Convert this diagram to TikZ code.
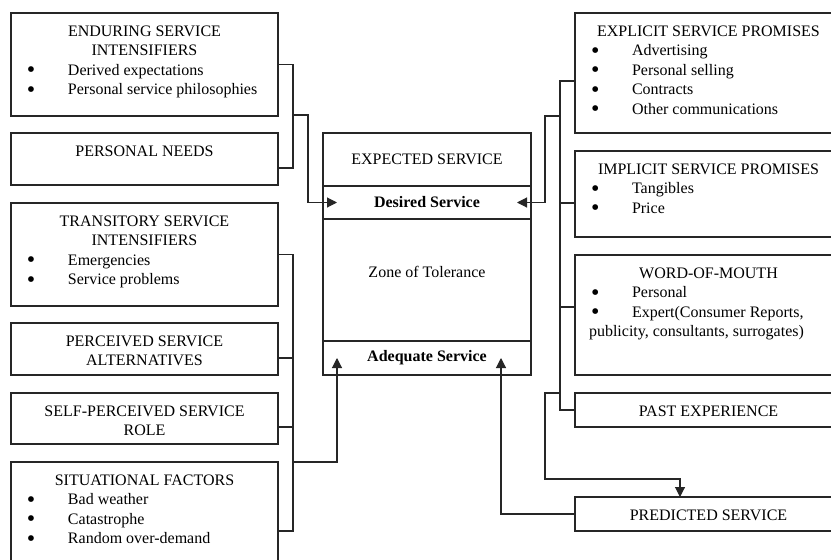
\documentclass[tikz,border=0pt]{standalone}
\usepackage{fontspec}
\setmainfont{Liberation Serif}
\usetikzlibrary{arrows.meta,positioning}

% box contents: fixed height, text from the top
\newcommand{\cardtext}[2]{\parbox[c][#1pt][t]{267pt}{\fontsize{16}{19.6}\selectfont\rule{0pt}{23pt}#2}}
\newcommand{\hd}[1]{{\centering#1\par}}
\newcommand{\dotmark}{\smash{\raisebox{-2.5pt}{\scalebox{1.5}{\textbullet}}}}
\newcommand{\bul}[1]{\hspace*{16pt}\makebox[41pt][l]{\dotmark}#1\par}

\tikzset{%
    >={Triangle[width=10pt,length=10pt]},
    % Specifications for style of nodes:
    base/.style = {
        rectangle, draw=black!85, line width=1.1pt,
        inner sep=0pt, outer sep=0pt, fill=white
    },
    card/.style = {base},
    mid/.style = {
        base, minimum width=208pt,
        font=\fontsize{16}{19.6}\selectfont, align=center
    },
    link/.style = {draw=black!85, line width=1.1pt}
}

\begin{document}
\begin{tikzpicture}[x=1pt, y=-1pt, node distance=17pt]
\path[use as bounding box, clip] (0,0) rectangle (831,560);
% left column
\node (endur) [card, anchor=north west] at (11,13) {\cardtext{103}{\hd{ENDURING SERVICE}\hd{INTENSIFIERS}\bul{Derived expectations}\bul{Personal service philosophies}}};
\node (needs) [card, below=17pt of endur] {\cardtext{52}{\hd{PERSONAL NEEDS}}};
\node (trans) [card, below=18pt of needs] {\cardtext{103}{\hd{TRANSITORY SERVICE}\hd{INTENSIFIERS}\bul{Emergencies}\bul{Service problems}}};
\node (perc)  [card, below=17pt of trans] {\cardtext{52}{\hd{PERCEIVED SERVICE}\hd{ALTERNATIVES}}};
\node (self)  [card, below=18pt of perc] {\cardtext{51}{\hd{SELF-PERCEIVED SERVICE}\hd{ROLE}}};
\node (situ)  [card, below=18pt of self] {\cardtext{103}{\hd{SITUATIONAL FACTORS}\bul{Bad weather}\bul{Catastrophe}\bul{Random over-demand}}};
% centre
\node (exp)   [mid, anchor=north west, minimum height=53pt] at (323,133) {EXPECTED SERVICE};
\node (des)   [mid, minimum height=33pt, below=0pt of exp] {\bfseries Desired Service};
\node (zone)  [mid, minimum height=122pt, text depth=16pt, below=0pt of des] {Zone of Tolerance};
\node (adeq)  [mid, minimum height=34pt, below=0pt of zone] {\bfseries Adequate Service};
% right column
\node (expl)  [card, anchor=north west] at (575,13) {\cardtext{120}{\hd{EXPLICIT SERVICE PROMISES}\bul{Advertising}\bul{Personal selling}\bul{Contracts}\bul{Other communications}}};
\node (impl)  [card, below=18pt of expl] {\cardtext{86}{\hd{IMPLICIT SERVICE PROMISES}\bul{Tangibles}\bul{Price}}};
\node (wom)   [card, below=18pt of impl] {\cardtext{120}{\hd{WORD-OF-MOUTH}\bul{Personal}\bul{Expert(Consumer Reports,}\hspace*{14pt}publicity, consultants, surrogates)\par}};
\node (past)  [card, below=18pt of wom] {\cardtext{34}{\hd{PAST EXPERIENCE}}};
\node (pred)  [card, below=70pt of past] {\cardtext{34}{\hd{PREDICTED SERVICE}}};
% joints
\coordinate (upl)  at (293,115);
\coordinate (lowl) at (293,462);
\coordinate (upr)  at (560,116);
\coordinate (lowr) at (560,393);
% Specification of paths
\draw[link] (endur.east) -- ++(15,0) |- ([yshift=-9pt]needs.east);
\draw[link,->] (upl) -- ++(15,0) |- ([xshift=14pt]des.west);
\draw[link] (trans.east) -- ++(15,0) |- ([yshift=-17.5pt]situ.east);
\draw[link] ([yshift=-9pt]perc.east) -- ++(15,0);
\draw[link] ([yshift=-8.5pt]self.east) -- ++(15,0);
\draw[link,->] (lowl) -| ([xshift=14pt]adeq.west);
\draw[link] ([yshift=-8pt]expl.west) -- ++(-15,0) |- (past.west);
\draw[link] ([yshift=-9pt]impl.west) -- ++(-15,0);
\draw[link] ([yshift=8pt]wom.west) -- ++(-15,0);
\draw[link,->] (upr) -- ++(-15,0) |- ([xshift=-14pt]des.east);
\draw[link,->] (lowr) -- ++(-15,0) |- ([xshift=-28.5pt,yshift=18pt]pred.north) -- ([xshift=-28.5pt]pred.north);
\draw[link,->] (pred.west) -| ([xshift=-30pt]adeq.east);
\end{tikzpicture}
\end{document}
